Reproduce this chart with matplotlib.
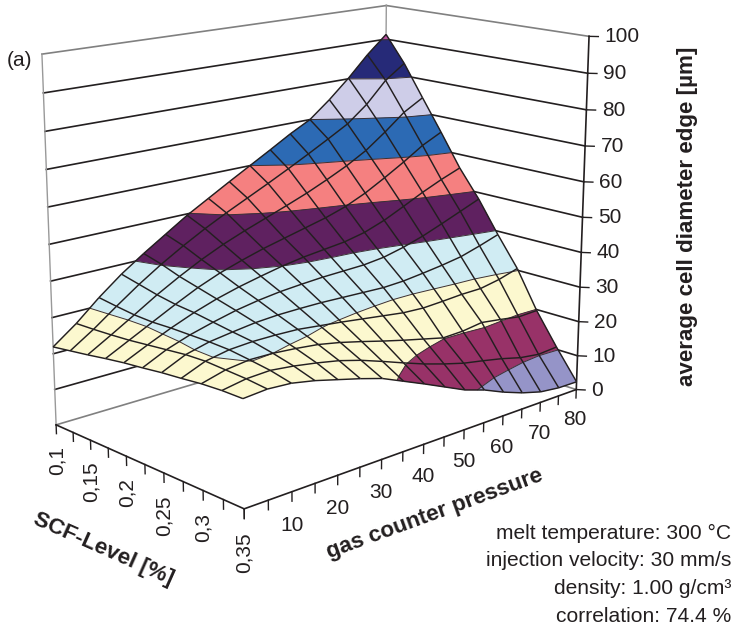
import numpy as np
import matplotlib
matplotlib.use("Agg")
import matplotlib.pyplot as plt
from mpl_toolkits.mplot3d import proj3d
from mpl_toolkits.mplot3d.art3d import Poly3DCollection, Line3DCollection

plt.rcParams["font.family"] = ["Liberation Sans", "DejaVu Sans"]

# gas counter pressure on one side, SCF level on the other
pressure = [0, 5, 10, 15, 20, 25, 30, 35, 40, 45, 50, 55, 60, 65, 70, 75, 80]
scf_level = [0.1, 0.125, 0.15, 0.175, 0.2, 0.225, 0.25, 0.275, 0.3, 0.325, 0.35]

# average cell diameter, one row per SCF level
cell_01 = [21.9, 26.7, 32.3, 37.3, 41.6, 45.6, 49.6, 53.1, 56.6, 60.0, 63.4, 66.9, 70.0, 74.8, 80.2, 86.2, 91.4]
cell_0125 = [22.7, 26.9, 31.6, 36.1, 40.2, 43.9, 47.3, 50.4, 53.3, 56.2, 59.2, 62.3, 65.5, 68.8, 73.5, 79.6, 83.7]
cell_015 = [23.5, 27.2, 31.0, 34.9, 38.4, 41.6, 44.4, 46.8, 49.0, 51.2, 53.5, 56.1, 58.9, 62.2, 66.5, 71.2, 74.5]
cell_0175 = [24.4, 27.6, 30.8, 34.0, 37.0, 39.5, 41.5, 43.3, 44.8, 46.3, 47.8, 49.7, 52.3, 55.5, 58.9, 62.6, 65.4]
cell_02 = [25.2, 28.2, 31.0, 33.5, 35.6, 37.3, 38.7, 40.0, 41.0, 41.7, 42.4, 43.7, 45.8, 48.5, 51.3, 53.8, 56.0]
cell_0225 = [25.8, 28.8, 31.0, 32.7, 34.2, 35.3, 36.1, 36.6, 37.0, 37.2, 37.4, 38.1, 39.5, 41.3, 43.5, 45.8, 48.1]
cell_025 = [26.5, 29.4, 31.0, 31.9, 32.7, 33.1, 33.2, 33.2, 33.0, 32.8, 32.6, 32.9, 33.6, 34.4, 35.4, 37.1, 39.0]
cell_0275 = [27.0, 29.6, 30.8, 31.2, 31.2, 31.0, 30.3, 29.6, 28.8, 28.0, 27.2, 26.9, 27.2, 27.6, 27.7, 28.8, 30.5]
cell_03 = [27.6, 29.3, 30.1, 30.0, 29.5, 28.8, 27.6, 26.1, 24.5, 23.0, 21.6, 20.2, 20.4, 21.2, 20.4, 19.5, 19.7]
cell_0325 = [27.9, 29.0, 29.3, 28.6, 27.6, 26.4, 24.7, 22.6, 20.4, 18.3, 16.5, 14.9, 13.8, 12.6, 11.1, 10.3, 10.7]
cell_035 = [27.9, 28.4, 28.0, 26.8, 25.2, 23.6, 21.8, 19.2, 16.6, 13.9, 11.2, 9.3, 6.8, 4.7, 3.1, 2.4, 2.3]
cell_rows = [cell_01, cell_0125, cell_015, cell_0175, cell_02, cell_0225, cell_025, cell_0275, cell_03, cell_0325,
             cell_035]

band_edges = [0, 10, 20, 30, 40, 50, 60, 70, 80, 90, 100]
band_colors = ["#9594c8", "#983268", "#fcf8cf", "#d0ecf3", "#5f2160", "#f58080", "#2c6ab4", "#cecde8", "#262a78",
               "#b84f9e"]
z_ticks = [0, 10, 20, 30, 40, 50, 60, 70, 80, 90, 100]
scf_labels = {0.1: "0,1", 0.15: "0,15", 0.2: "0,2", 0.25: "0,25", 0.3: "0,3", 0.35: "0,35"}
pressure_labels = [10, 20, 30, 40, 50, 60, 70, 80]
notes = ["melt temperature: 300 °C", "injection velocity: 30 mm/s", "density: 1.00 g/cm³", "correlation: 74.4 %"]

DARK = "#231f20"
GREY = "#808080"
W, H = 736, 627


def clip_z(poly, level, keep_above):
    """Clips a 3D polygon against a horizontal plane"""
    out = []
    for k, p in enumerate(poly):
        q = poly[(k + 1) % len(poly)]
        p_in = p[2] >= level if keep_above else p[2] <= level
        q_in = q[2] >= level if keep_above else q[2] <= level
        if p_in:
            out.append(p)
        if p_in != q_in:
            t = (level - p[2]) / (q[2] - p[2])
            out.append((p[0] + t * (q[0] - p[0]), p[1] + t * (q[1] - p[1]), level))
    return out


def build_bands():
    """Cuts every grid cell into the flat coloured bands of the surface"""
    polys, colors, seams = [], [], []
    for i in range(len(scf_level) - 1):
        for j in range(len(pressure) - 1):
            cell = [(pressure[j], scf_level[i], cell_rows[i][j]),
                    (pressure[j + 1], scf_level[i], cell_rows[i][j + 1]),
                    (pressure[j + 1], scf_level[i + 1], cell_rows[i + 1][j + 1]),
                    (pressure[j], scf_level[i + 1], cell_rows[i + 1][j])]
            for b, color in enumerate(band_colors):
                part = clip_z(cell, band_edges[b], True)
                part = clip_z(part, band_edges[b + 1], False) if part else part
                if len(part) < 3:
                    continue
                polys.append(part)
                colors.append(color)
                for k, p in enumerate(part):
                    q = part[(k + 1) % len(part)]
                    if p[2] == q[2] == band_edges[b]:
                        seams.append([p, q])
    return polys, colors, seams


def draw_walls(ax):
    """Draws the two back walls and the floor edges"""
    p0, p1 = pressure[0], pressure[-1]
    s0, s1 = scf_level[0], scf_level[-1]
    for z in z_ticks:
        color = GREY if z in (0, 100) else DARK
        ax.plot([p0, p1], [s0, s0], [z, z], color=color, lw=1.2, zorder=1)
        ax.plot([p1, p1], [s0, s1], [z, z], color=color, lw=1.2, zorder=1)
    ax.plot([p0, p0], [s0, s0], [0, 100], color="#999999", lw=1.0, zorder=1)
    ax.plot([p1, p1], [s0, s0], [0, 100], color="#999999", lw=1.0, zorder=1)


def flat_label(ax, x, y, z, label, **kwargs):
    """Puts a label at a 3D spot but keeps it upright or flat on the page"""
    px, py, _ = proj3d.proj_transform(x, y, z, ax.get_proj())
    ax.text2D(px, py, label, transform=ax.transData, fontsize=15, color=DARK, **kwargs)


def draw_axes(ax):
    """Draws the front axes by hand with their ticks and labels"""
    p0, p1 = pressure[0], pressure[-1]
    s0, s1 = scf_level[0], scf_level[-1]
    ax.plot([p0, p0], [s0, s1], [0, 0], color=DARK, lw=1.2, zorder=2)
    ax.plot([p0, p1], [s1, s1], [0, 0], color=DARK, lw=1.2, zorder=2)
    ax.plot([p1, p1], [s1, s1], [0, 100], color=DARK, lw=1.2, zorder=2)

    for s in scf_level:
        ax.plot([p0, p0], [s, s], [0, -2.5], color=DARK, lw=1.0, zorder=2)
    for s, label in scf_labels.items():
        flat_label(ax, p0, s, -6.0, label, rotation=90, ha="center", va="top")

    for p in pressure:
        ax.plot([p, p], [s1, s1], [0, -2.5], color=DARK, lw=1.0, zorder=2)
    for p in pressure_labels:
        flat_label(ax, p, s1, -9, str(p), ha="center", va="center")

    for z in z_ticks:
        ax.plot([p1, p1 + 1.0], [s1, s1 + 0.00625], [z, z], color=DARK, lw=1.0, zorder=2)
        flat_label(ax, p1 + 1.7, s1 + 0.0105, z, str(z), ha="left", va="center")


def main() -> None:
    fig = plt.figure(figsize=(W / 100, H / 100), dpi=100)
    size = 800.0
    ax = fig.add_axes([-88.005 / W, -14.2493 / H, size / W, size / H], projection="3d", computed_zorder=False)
    ax.set_xlim(pressure[0], pressure[-1])
    ax.set_ylim(scf_level[-1], scf_level[0])
    ax.set_zlim(0, 100)
    ax.view_init(elev=15.0387, azim=-133.02)
    ax.set_proj_type("persp", focal_length=float(np.exp(-0.809)))
    box = np.array([1.0651, 0.665, 0.8657])
    ax.set_box_aspect(box, zoom=float(np.linalg.norm(box) / (1.8294640721620434 * 25 / 24)))
    ax.set_axis_off()
    ax.patch.set_alpha(0)

    draw_walls(ax)
    draw_axes(ax)

    polys, colors, seams = build_bands()
    surface = Poly3DCollection(polys, facecolors=colors, edgecolors=colors, linewidths=0.3, zorder=3)
    ax.add_collection3d(surface, autolim=False)
    ax.add_collection3d(Line3DCollection(seams, colors="#3a3034", linewidths=0.7, zorder=4), autolim=False)

    grid_lines = []
    for i, s in enumerate(scf_level):
        for j in range(len(pressure) - 1):
            grid_lines.append([(pressure[j], s, cell_rows[i][j]), (pressure[j + 1], s, cell_rows[i][j + 1])])
    for j, p in enumerate(pressure):
        for i in range(len(scf_level) - 1):
            grid_lines.append([(p, scf_level[i], cell_rows[i][j]), (p, scf_level[i + 1], cell_rows[i + 1][j])])
    ax.add_collection3d(Line3DCollection(grid_lines, colors=DARK, linewidths=1.05, zorder=5), autolim=False)

    fig.text(7 / W, 1 - 60 / H, "(a)", fontsize=15, color=DARK, ha="left", va="center")
    fig.text(688 / W, 1 - 216 / H, "average cell diameter edge [µm]", rotation=90, fontsize=16.1, fontweight="bold",
             color=DARK, ha="center", va="center")
    fig.text(103 / W, 1 - 549 / H, "SCF-Level [%]", rotation=-24, rotation_mode="anchor", fontsize=16.2,
             fontweight="bold", color=DARK, ha="center", va="center")
    fig.text(435 / W, 1 - 514 / H, "gas counter pressure", rotation=20, rotation_mode="anchor", fontsize=16.2,
             fontweight="bold", color=DARK, ha="center", va="center")
    for note, y in zip(notes, [533, 561, 589, 616]):
        fig.text(731 / W, 1 - y / H, note, fontsize=15.1, color=DARK, ha="right", va="center")

    fig.savefig("out.png", dpi=100)


if __name__ == '__main__':
    main()
